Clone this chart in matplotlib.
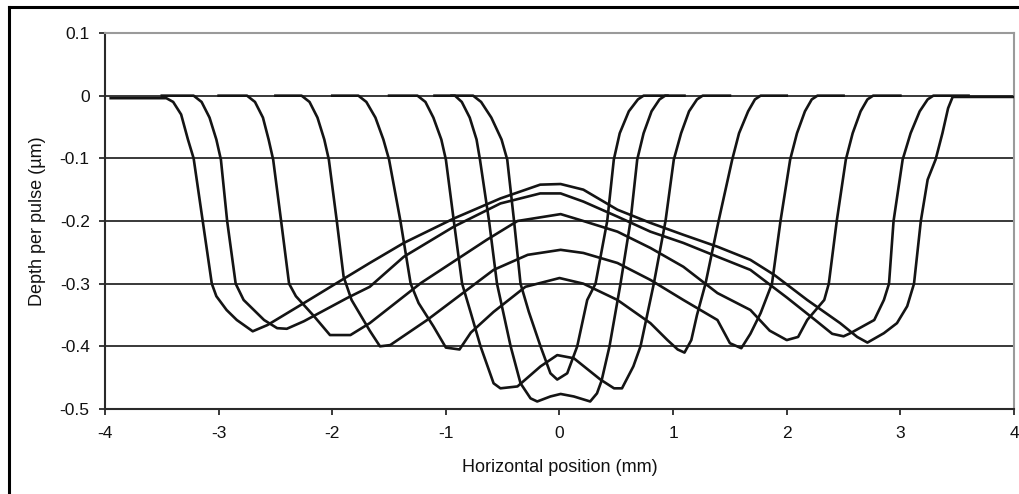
import matplotlib
matplotlib.use("Agg")
import matplotlib.pyplot as plt
from matplotlib.lines import Line2D

plt.rcParams['font.family'] = ['Liberation Sans', 'DejaVu Sans']
plt.rcParams['axes.unicode_minus'] = False

x_ticks = [-4, -3, -2, -1, 0, 1, 2, 3, 4]
y_ticks = [0.1, 0, -0.1, -0.2, -0.3, -0.4, -0.5]
y_tick_labels = ["0.1", "0", "-0.1", "-0.2", "-0.3", "-0.4", "-0.5"]
x_label = "Horizontal position (mm)"
y_label = "Depth per pulse (µm)"

p1_x = [-3.95, -3.46, -3.40, -3.33, -3.27, -3.22, -3.14, -3.06, -3.02, -2.93, -2.84, -2.70,
        -2.57, -2.25, -1.87, -1.67, -1.37, -0.93, -0.52, -0.17, 0.01, 0.21, 0.51, 0.80, 1.09,
        1.39, 1.68, 1.89, 2.18, 2.47, 2.62, 2.71, 2.855, 2.97, 3.06, 3.12, 3.18, 3.24, 3.31,
        3.37, 3.42, 3.46, 4.0]
p1_y = [-0.004, -0.004, -0.01, -0.03, -0.07, -0.10, -0.20, -0.30, -0.32, -0.342, -0.358,
        -0.376, -0.366, -0.331, -0.289, -0.267, -0.235, -0.196, -0.164, -0.142, -0.141,
        -0.150, -0.182, -0.203, -0.222, -0.241, -0.262, -0.286, -0.326, -0.363, -0.385,
        -0.394, -0.379, -0.363, -0.336, -0.30, -0.20, -0.134, -0.102, -0.06, -0.02,
        -0.002, -0.002]

p2_x = [-3.5, -3.22, -3.15, -3.08, -3.02, -2.98, -2.925, -2.85, -2.78, -2.60, -2.485, -2.40,
        -2.25, -1.87, -1.67, -1.37, -0.93, -0.52, -0.17, 0.01, 0.21, 0.51, 0.80, 1.09, 1.39,
        1.68, 2.0, 2.25, 2.40, 2.50, 2.56, 2.77, 2.855, 2.90, 2.94, 3.02, 3.09, 3.17, 3.24,
        3.29, 3.6]
p2_y = [0, 0, -0.01, -0.035, -0.07, -0.102, -0.2, -0.3, -0.326, -0.358, -0.371, -0.372,
        -0.36, -0.323, -0.305, -0.257, -0.209, -0.172, -0.156, -0.156, -0.169, -0.193,
        -0.217, -0.235, -0.257, -0.278, -0.322, -0.358, -0.38, -0.384, -0.379, -0.358,
        -0.326, -0.30, -0.2, -0.102, -0.06, -0.025, -0.006, 0, 0]

p3_x = [-3.0, -2.75, -2.68, -2.61, -2.56, -2.52, -2.45, -2.38, -2.32, -2.16, -2.02, -1.84,
        -1.67, -1.22, -0.64, -0.37, 0.01, 0.21, 0.51, 0.80, 1.09, 1.39, 1.68, 1.85, 2.0,
        2.10, 2.18, 2.33, 2.37, 2.44, 2.52, 2.58, 2.65, 2.71, 2.76, 3.0]
p3_y = [0, 0, -0.01, -0.035, -0.07, -0.102, -0.2, -0.3, -0.32, -0.352, -0.382, -0.382,
        -0.363, -0.299, -0.23, -0.2, -0.189, -0.2, -0.217, -0.243, -0.273, -0.315, -0.342,
        -0.375, -0.39, -0.385, -0.358, -0.326, -0.30, -0.2, -0.102, -0.06, -0.025, -0.006,
        0, 0]

p4_x = [-2.5, -2.27, -2.20, -2.13, -2.07, -2.03, -1.96, -1.90, -1.83, -1.67, -1.58, -1.49,
        -1.165, -0.58, -0.28, 0.01, 0.21, 0.51, 0.80, 1.09, 1.39, 1.50, 1.60, 1.68, 1.77,
        1.87, 1.945, 2.03, 2.09, 2.16, 2.22, 2.27, 2.5]
p4_y = [0, 0, -0.01, -0.035, -0.07, -0.102, -0.2, -0.289, -0.326, -0.375, -0.40, -0.398,
        -0.358, -0.278, -0.254, -0.246, -0.251, -0.267, -0.294, -0.326, -0.358, -0.395,
        -0.403, -0.38, -0.347, -0.3, -0.2, -0.102, -0.06, -0.025, -0.006, 0, 0]

p5_x = [-2.0, -1.77, -1.70, -1.62, -1.55, -1.50, -1.40, -1.31, -1.24, -1.11, -1.0, -0.88,
        -0.78, -0.58, -0.30, 0.0, 0.21, 0.51, 0.80, 0.95, 1.04, 1.10, 1.16, 1.21, 1.285,
        1.40, 1.52, 1.58, 1.66, 1.72, 1.77, 2.0]
p5_y = [0, 0, -0.01, -0.035, -0.07, -0.102, -0.2, -0.3, -0.331, -0.368, -0.402, -0.405,
        -0.378, -0.345, -0.305, -0.291, -0.30, -0.326, -0.363, -0.39, -0.405, -0.41, -0.39,
        -0.35, -0.3, -0.2, -0.102, -0.06, -0.025, -0.006, 0, 0]

p6_x = [-1.5, -1.25, -1.18, -1.11, -1.04, -1.0, -0.93, -0.857, -0.78, -0.695, -0.58, -0.52,
        -0.37, -0.167, -0.02, 0.126, 0.36, 0.48, 0.55, 0.65, 0.713, 0.83, 0.933, 1.006,
        1.07, 1.14, 1.21, 1.26, 1.5]
p6_y = [0, 0, -0.01, -0.035, -0.07, -0.102, -0.2, -0.3, -0.347, -0.4, -0.459, -0.467,
        -0.464, -0.432, -0.414, -0.419, -0.453, -0.467, -0.467, -0.432, -0.4, -0.3, -0.2,
        -0.102, -0.06, -0.025, -0.006, 0, 0]

p7_x = [-1.1, -0.92, -0.86, -0.79, -0.73, -0.70, -0.62, -0.55, -0.43, -0.343, -0.255,
        -0.196, -0.08, 0.01, 0.126, 0.27, 0.33, 0.37, 0.44, 0.537, 0.625, 0.684, 0.74,
        0.81, 0.88, 0.93, 1.1]
p7_y = [0, 0, -0.01, -0.035, -0.07, -0.102, -0.2, -0.3, -0.4, -0.459, -0.483, -0.488,
        -0.48, -0.476, -0.48, -0.488, -0.475, -0.455, -0.4, -0.3, -0.2, -0.102, -0.06,
        -0.025, -0.006, 0, 0]

p8_x = [-0.95, -0.76, -0.69, -0.60, -0.51, -0.46, -0.40, -0.343, -0.27, -0.167, -0.08,
        -0.02, 0.068, 0.156, 0.244, 0.317, 0.42, 0.478, 0.53, 0.61, 0.69, 0.74, 0.95]
p8_y = [0, 0, -0.01, -0.035, -0.07, -0.102, -0.2, -0.3, -0.345, -0.40, -0.443, -0.453,
        -0.443, -0.40, -0.326, -0.3, -0.2, -0.102, -0.06, -0.025, -0.006, 0, 0]

profiles = [(p1_x, p1_y), (p2_x, p2_y), (p3_x, p3_y), (p4_x, p4_y),
            (p5_x, p5_y), (p6_x, p6_y), (p7_x, p7_y), (p8_x, p8_y)]

fig = plt.figure(figsize=(10.2, 4.94), dpi=100)
ax = fig.add_axes([105/1020, 1 - 409/494, (1014-105)/1020, (409-33)/494])

for yv in [0, -0.1, -0.2, -0.3, -0.4]:
    ax.axhline(yv, color='#2a2a2a', lw=1.3, zorder=1)

for px, py in profiles:
    ax.plot(px, py, color='#141414', lw=1.9, zorder=3, solid_joinstyle='round')

ax.set_xlim(-4, 4)
ax.set_ylim(-0.5, 0.1)
ax.set_xticks(x_ticks)
ax.set_xticklabels([str(v) for v in x_ticks])
ax.set_yticks(y_ticks)
ax.set_yticklabels(y_tick_labels)
ax.tick_params(axis='both', direction='out', length=4, width=1.3, color='#2a2a2a',
               labelsize=12.5, labelcolor='#111111')
ax.tick_params(axis='y', pad=7)
ax.tick_params(axis='x', pad=8)

for s in ['left', 'bottom']:
    ax.spines[s].set_color('#2a2a2a')
    ax.spines[s].set_linewidth(1.5)
for s in ['top', 'right']:
    ax.spines[s].set_color('#9a9a9a')
    ax.spines[s].set_linewidth(1.5)

ax.set_xlabel(x_label, fontsize=13, color='#111111')
ax.set_ylabel(y_label, fontsize=13, color='#111111')
ax.xaxis.set_label_coords(0.5, (409 - 459) / 376)
ax.yaxis.set_label_coords((46 - 105) / 909, 0.5)

# outer frame lines (left and top)
fig.add_artist(Line2D([9/1020, 9/1020], [0, 1 - 7/494], transform=fig.transFigure,
                      color='black', lw=2.2))
fig.add_artist(Line2D([9/1020, 1], [1 - 7/494, 1 - 7/494], transform=fig.transFigure,
                      color='black', lw=2.2))

fig.savefig("out.png", dpi=100)
